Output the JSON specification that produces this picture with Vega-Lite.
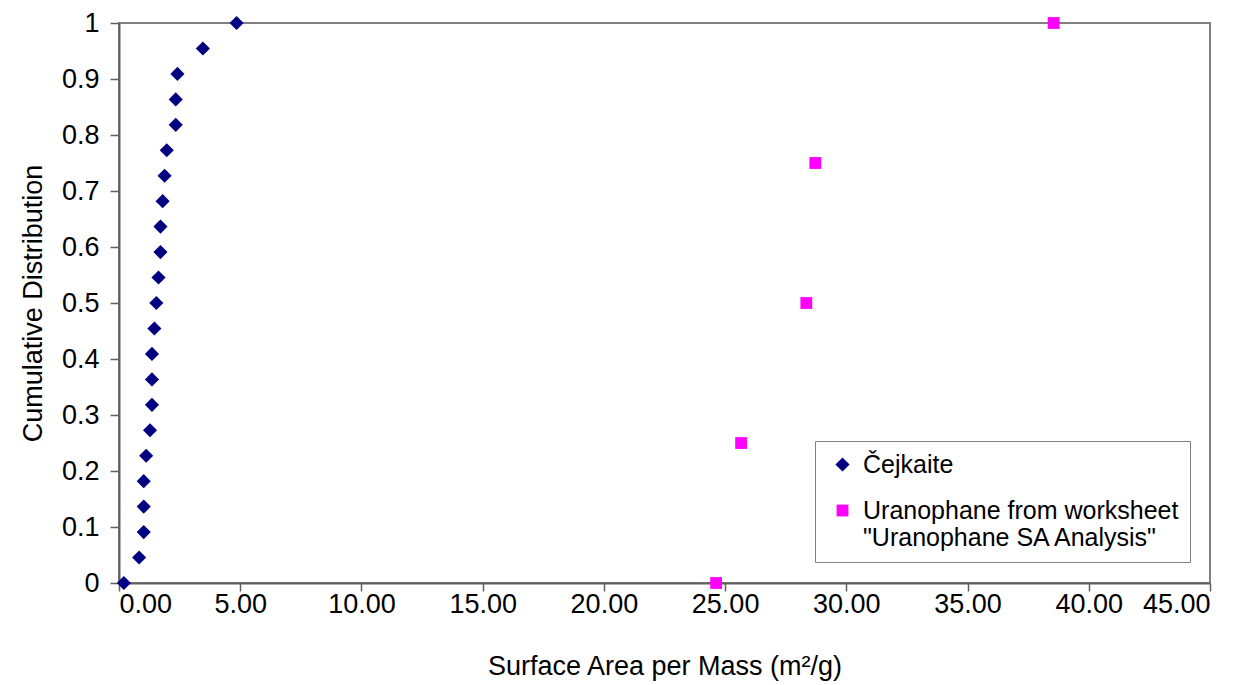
{
  "$schema": "https://vega.github.io/schema/vega-lite/v6.json",
  "width": 1091,
  "height": 560,
  "autosize": {"type": "none"},
  "padding": {"left": 119, "top": 23, "right": 38, "bottom": 102},
  "background": "white",
  "config": {
    "font": "Liberation Sans",
    "view": {"stroke": "#808080", "strokeWidth": 2},
    "axis": {"grid": false, "domainColor": "#606060", "domainWidth": 2, "tickColor": "#606060", "tickWidth": 1.5, "labelFont": "Liberation Sans", "titleFont": "Liberation Sans", "labelColor": "black", "titleColor": "black", "titleFontWeight": "normal"}
  },
  "data": {
    "values": [
      {"series": "Čejkaite", "x": 0.2, "y": 0},
      {"series": "Čejkaite", "x": 0.83, "y": 0.0455},
      {"series": "Čejkaite", "x": 1.02, "y": 0.0909},
      {"series": "Čejkaite", "x": 1.02, "y": 0.1364},
      {"series": "Čejkaite", "x": 1.02, "y": 0.1818},
      {"series": "Čejkaite", "x": 1.12, "y": 0.2273},
      {"series": "Čejkaite", "x": 1.28, "y": 0.2727},
      {"series": "Čejkaite", "x": 1.36, "y": 0.3182},
      {"series": "Čejkaite", "x": 1.36, "y": 0.3636},
      {"series": "Čejkaite", "x": 1.36, "y": 0.4091},
      {"series": "Čejkaite", "x": 1.46, "y": 0.4545},
      {"series": "Čejkaite", "x": 1.54, "y": 0.5},
      {"series": "Čejkaite", "x": 1.63, "y": 0.5455},
      {"series": "Čejkaite", "x": 1.71, "y": 0.5909},
      {"series": "Čejkaite", "x": 1.71, "y": 0.6364},
      {"series": "Čejkaite", "x": 1.8, "y": 0.6818},
      {"series": "Čejkaite", "x": 1.88, "y": 0.7273},
      {"series": "Čejkaite", "x": 1.97, "y": 0.7727},
      {"series": "Čejkaite", "x": 2.34, "y": 0.8182},
      {"series": "Čejkaite", "x": 2.34, "y": 0.8636},
      {"series": "Čejkaite", "x": 2.41, "y": 0.9091},
      {"series": "Čejkaite", "x": 3.46, "y": 0.9545},
      {"series": "Čejkaite", "x": 4.85, "y": 1.0},
      {"series": "Uranophane from worksheet|\"Uranophane SA Analysis\"", "x": 24.63, "y": 0},
      {"series": "Uranophane from worksheet|\"Uranophane SA Analysis\"", "x": 25.66, "y": 0.25},
      {"series": "Uranophane from worksheet|\"Uranophane SA Analysis\"", "x": 28.35, "y": 0.5},
      {"series": "Uranophane from worksheet|\"Uranophane SA Analysis\"", "x": 28.72, "y": 0.75},
      {"series": "Uranophane from worksheet|\"Uranophane SA Analysis\"", "x": 38.55, "y": 1.0}
    ]
  },
  "mark": {"type": "point", "filled": true, "opacity": 1},
  "encoding": {
    "x": {
      "field": "x", "type": "quantitative",
      "scale": {"domain": [0, 45], "nice": false, "zero": false},
      "axis": {"values": [0,5,10,15,20,25,30,35,40,45], "format": ".2f", "labelFontSize": 27, "tickSize": 8, "labelPadding": 0, "title": "Surface Area per Mass (m²/g)", "titleFontSize": 27, "titlePadding": 36}
    },
    "y": {
      "field": "y", "type": "quantitative",
      "scale": {"domain": [0, 1], "nice": false},
      "axis": {"values": [0,0.1,0.2,0.3,0.4,0.5,0.6,0.7,0.8,0.9,1], "format": ".1~f", "labelFontSize": 27, "tickSize": 9, "labelPadding": 11, "title": "Cumulative Distribution", "titleFontSize": 27, "titlePadding": 14}
    },
    "color": {
      "field": "series", "type": "nominal",
      "scale": {"domain": ["Čejkaite", "Uranophane from worksheet|\"Uranophane SA Analysis\""], "range": ["#000080", "#FF00FF"]},
      "legend": {
        "title": null, "orient": "none", "legendX": 696, "legendY": 418,
        "strokeColor": "#808080", "fillColor": "white", "padding": 11,
        "labelFontSize": 25, "labelLimit": 500, "labelColor": "black",
        "labelExpr": "split(datum.label, '|')", "labelOffset": 8,
        "rowPadding": 20, "symbolSize": 160, "symbolOffset": 4
      }
    },
    "shape": {
      "field": "series", "type": "nominal",
      "scale": {"domain": ["Čejkaite", "Uranophane from worksheet|\"Uranophane SA Analysis\""], "range": ["diamond", "square"]}
    },
    "size": {
      "field": "series", "type": "nominal",
      "scale": {"domain": ["Čejkaite", "Uranophane from worksheet|\"Uranophane SA Analysis\""], "range": [200, 140]},
      "legend": null
    }
  }
}
